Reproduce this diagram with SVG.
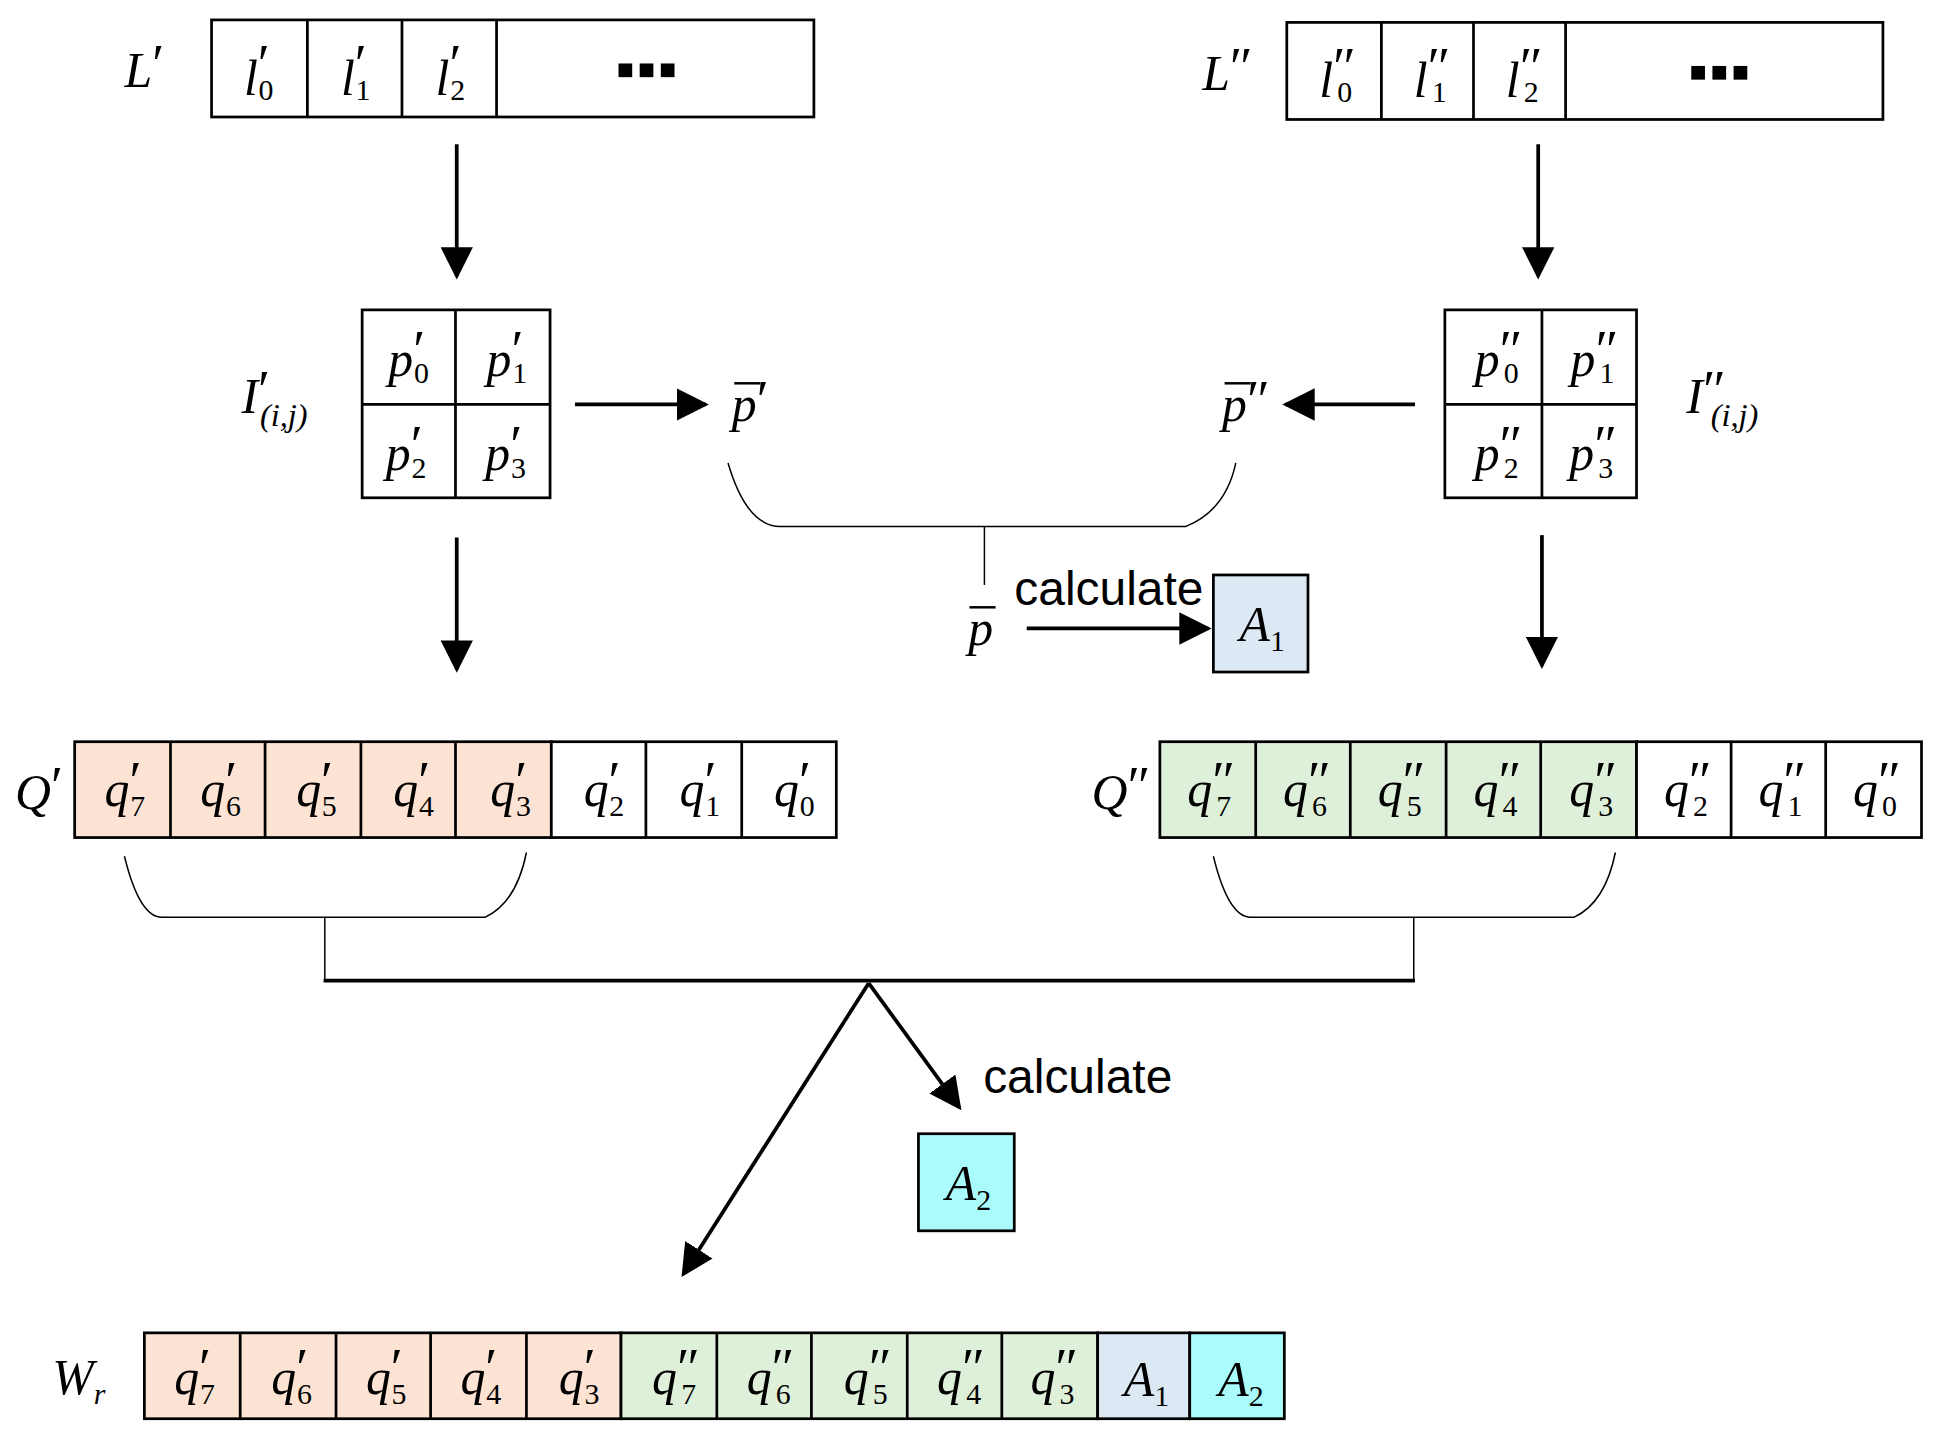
<svg xmlns="http://www.w3.org/2000/svg" width="1951" height="1443" viewBox="0 0 1951 1443">
<defs>
<style>
.b{fill:none;stroke:#000;stroke-width:2.2}
.t{stroke:#000;stroke-width:1.2;fill:none}
.w{fill:#fff;stroke:#000;stroke-width:2.2}
.o{fill:#fde3d3;stroke:#000;stroke-width:2.2}
.g{fill:#dff0da;stroke:#000;stroke-width:2.2}
.a1{fill:#dde8f5;stroke:#000;stroke-width:2.2}
.a2{fill:#aafcfc;stroke:#000;stroke-width:2.2}
.m{font-family:"Liberation Serif",serif;font-style:italic;font-size:40px}
.s{font-size:24px;font-style:normal}
.pr{font-size:44px;font-style:normal}
.c{font-family:"Liberation Sans",sans-serif;font-size:38px}
.ln{stroke:#000;stroke-width:3;fill:none}
</style>
<marker id="ar" viewBox="0 0 10 10" refX="9" refY="5" markerWidth="26" markerHeight="26" orient="auto" markerUnits="userSpaceOnUse"><path d="M0,0 L10,5 L0,10 z"/></marker>
</defs>
<rect width="1951" height="1443" fill="#fff"/>
<g transform="scale(1.2445,1.2445)">
<g id="connectors">
<line class="ln" x1="367" y1="116" x2="367" y2="222" marker-end="url(#ar)"/>
<line class="ln" x1="1236" y1="116" x2="1236" y2="222" marker-end="url(#ar)"/>
<line class="ln" x1="462" y1="325" x2="567" y2="325" marker-end="url(#ar)"/>
<line class="ln" x1="1137" y1="325" x2="1033" y2="325" marker-end="url(#ar)"/>
<line class="ln" x1="367" y1="432" x2="367" y2="538" marker-end="url(#ar)"/>
<line class="ln" x1="1239" y1="430" x2="1239" y2="535" marker-end="url(#ar)"/>
<line class="ln" x1="825" y1="505" x2="971" y2="505" marker-end="url(#ar)"/>
<path class="t" d="M585,372 Q600,423 627,423 L953,423 Q985,410 993,372"/>
<line class="t" x1="791" y1="423" x2="791" y2="470"/>
<path class="t" d="M100,688 Q112,737 130,737 L390,737 Q415,725 423,685"/>
<line class="t" x1="261" y1="737" x2="261" y2="788"/>
<path class="t" d="M975,688 Q987,737 1005,737 L1265,737 Q1290,725 1298,685"/>
<line class="t" x1="1136" y1="737" x2="1136" y2="788"/>
<line class="ln" x1="260" y1="788" x2="1137" y2="788"/>
<line class="ln" x1="698" y1="790" x2="771" y2="890" marker-end="url(#ar)"/>
<line class="ln" x1="698" y1="790" x2="549" y2="1024" marker-end="url(#ar)"/>
</g>
<g id="Lp">
<rect class="w" x="170" y="16" width="484" height="78"/>
<line class="b" x1="247" y1="16" x2="247" y2="94"/><line class="b" x1="323" y1="16" x2="323" y2="94"/><line class="b" x1="399" y1="16" x2="399" y2="94"/>
<text class="m" x="100" y="70">L<tspan class="pr" dy="-4">′</tspan></text>
<text class="m" x="196" y="76">l<tspan class="pr" dy="-10">′</tspan><tspan class="s" dx="-9" dy="14">0</tspan></text>
<text class="m" x="274" y="76">l<tspan class="pr" dy="-10">′</tspan><tspan class="s" dx="-9" dy="14">1</tspan></text>
<text class="m" x="350" y="76">l<tspan class="pr" dy="-10">′</tspan><tspan class="s" dx="-9" dy="14">2</tspan></text>
<rect x="497" y="51" width="11" height="11"/><rect x="514" y="51" width="11" height="11"/><rect x="531" y="51" width="11" height="11"/>
</g>
<g id="Lpp">
<rect class="w" x="1034" y="18" width="479" height="78"/>
<line class="b" x1="1110" y1="18" x2="1110" y2="96"/><line class="b" x1="1184" y1="18" x2="1184" y2="96"/><line class="b" x1="1258" y1="18" x2="1258" y2="96"/>
<text class="m" x="966" y="72">L<tspan class="pr" dy="-4">″</tspan></text>
<text class="m" x="1060" y="78">l<tspan class="pr" dy="-10">″</tspan><tspan class="s" dx="-15" dy="14">0</tspan></text>
<text class="m" x="1136" y="78">l<tspan class="pr" dy="-10">″</tspan><tspan class="s" dx="-15" dy="14">1</tspan></text>
<text class="m" x="1210" y="78">l<tspan class="pr" dy="-10">″</tspan><tspan class="s" dx="-15" dy="14">2</tspan></text>
<rect x="1359" y="53" width="11" height="11"/><rect x="1376" y="53" width="11" height="11"/><rect x="1393" y="53" width="11" height="11"/>
</g>
<g id="Ip">
<rect class="w" x="291" y="249" width="151" height="151"/>
<line class="b" x1="366" y1="249" x2="366" y2="400"/><line class="b" x1="291" y1="325" x2="442" y2="325"/>
<text class="m" x="312" y="302">p<tspan class="pr" dy="-6">′</tspan><tspan class="s" dx="-9" dy="12">0</tspan></text>
<text class="m" x="391" y="302">p<tspan class="pr" dy="-6">′</tspan><tspan class="s" dx="-9" dy="12">1</tspan></text>
<text class="m" x="310" y="378">p<tspan class="pr" dy="-6">′</tspan><tspan class="s" dx="-9" dy="12">2</tspan></text>
<text class="m" x="390" y="378">p<tspan class="pr" dy="-6">′</tspan><tspan class="s" dx="-9" dy="12">3</tspan></text>
<text class="m" x="194" y="332">I<tspan class="pr" dy="-4">′</tspan><tspan font-size="26" dx="-8" dy="14">(i,j)</tspan></text>
</g>
<g id="Ipp">
<rect class="w" x="1161" y="249" width="154" height="151"/>
<line class="b" x1="1239" y1="249" x2="1239" y2="400"/><line class="b" x1="1161" y1="325" x2="1315" y2="325"/>
<text class="m" x="1185" y="302">p<tspan class="pr" dy="-6">″</tspan><tspan class="s" dx="-15" dy="12">0</tspan></text>
<text class="m" x="1262" y="302">p<tspan class="pr" dy="-6">″</tspan><tspan class="s" dx="-15" dy="12">1</tspan></text>
<text class="m" x="1185" y="378">p<tspan class="pr" dy="-6">″</tspan><tspan class="s" dx="-15" dy="12">2</tspan></text>
<text class="m" x="1261" y="378">p<tspan class="pr" dy="-6">″</tspan><tspan class="s" dx="-15" dy="12">3</tspan></text>
<text class="m" x="1355" y="332">I<tspan class="pr" dy="-4">″</tspan><tspan font-size="26" dx="-12" dy="14">(i,j)</tspan></text>
</g>
<g id="pbar1"><text class="m" x="588" y="338">p<tspan class="pr" dy="-2">′</tspan></text><line x1="590" y1="308" x2="611" y2="308" stroke="#000" stroke-width="2"/></g>
<g id="pbar2"><text class="m" x="982" y="338">p<tspan class="pr" dy="-2">″</tspan></text><line x1="984" y1="308" x2="1005" y2="308" stroke="#000" stroke-width="2"/></g>
<g id="pbar"><text class="m" x="778" y="518">p</text><line x1="779" y1="488" x2="800" y2="488" stroke="#000" stroke-width="2"/></g>
<text class="c" x="815" y="486" textLength="152" lengthAdjust="spacingAndGlyphs">calculate</text>
<g id="A1"><rect class="a1" x="975" y="462" width="76" height="78"/><text class="m" x="996" y="515">A<tspan class="s" dy="8">1</tspan></text></g>
<g id="Qp">
<rect class="o" x="60" y="596" width="383" height="77"/>
<rect class="w" x="443" y="596" width="229" height="77"/>
<g class="b"><line x1="137" y1="596" x2="137" y2="673"/><line x1="213" y1="596" x2="213" y2="673"/><line x1="290" y1="596" x2="290" y2="673"/><line x1="366" y1="596" x2="366" y2="673"/><line x1="519" y1="596" x2="519" y2="673"/><line x1="596" y1="596" x2="596" y2="673"/></g>
<text class="m" x="12" y="650">Q<tspan class="pr" dy="-4">′</tspan></text>
<text class="m" x="84" y="648">q<tspan class="pr" dy="-6">′</tspan><tspan class="s" dx="-9" dy="14">7</tspan></text>
<text class="m" x="161" y="648">q<tspan class="pr" dy="-6">′</tspan><tspan class="s" dx="-9" dy="14">6</tspan></text>
<text class="m" x="238" y="648">q<tspan class="pr" dy="-6">′</tspan><tspan class="s" dx="-9" dy="14">5</tspan></text>
<text class="m" x="316" y="648">q<tspan class="pr" dy="-6">′</tspan><tspan class="s" dx="-9" dy="14">4</tspan></text>
<text class="m" x="394" y="648">q<tspan class="pr" dy="-6">′</tspan><tspan class="s" dx="-9" dy="14">3</tspan></text>
<text class="m" x="469" y="648">q<tspan class="pr" dy="-6">′</tspan><tspan class="s" dx="-9" dy="14">2</tspan></text>
<text class="m" x="546" y="648">q<tspan class="pr" dy="-6">′</tspan><tspan class="s" dx="-9" dy="14">1</tspan></text>
<text class="m" x="622" y="648">q<tspan class="pr" dy="-6">′</tspan><tspan class="s" dx="-9" dy="14">0</tspan></text>
</g>
<g id="Qpp">
<rect class="g" x="932" y="596" width="383" height="77"/>
<rect class="w" x="1315" y="596" width="229" height="77"/>
<g class="b"><line x1="1009" y1="596" x2="1009" y2="673"/><line x1="1085" y1="596" x2="1085" y2="673"/><line x1="1162" y1="596" x2="1162" y2="673"/><line x1="1238" y1="596" x2="1238" y2="673"/><line x1="1391" y1="596" x2="1391" y2="673"/><line x1="1467" y1="596" x2="1467" y2="673"/></g>
<text class="m" x="877" y="650">Q<tspan class="pr" dy="-4">″</tspan></text>
<text class="m" x="954" y="648">q<tspan class="pr" dy="-6">″</tspan><tspan class="s" dx="-15" dy="14">7</tspan></text>
<text class="m" x="1031" y="648">q<tspan class="pr" dy="-6">″</tspan><tspan class="s" dx="-15" dy="14">6</tspan></text>
<text class="m" x="1107" y="648">q<tspan class="pr" dy="-6">″</tspan><tspan class="s" dx="-15" dy="14">5</tspan></text>
<text class="m" x="1184" y="648">q<tspan class="pr" dy="-6">″</tspan><tspan class="s" dx="-15" dy="14">4</tspan></text>
<text class="m" x="1261" y="648">q<tspan class="pr" dy="-6">″</tspan><tspan class="s" dx="-15" dy="14">3</tspan></text>
<text class="m" x="1337" y="648">q<tspan class="pr" dy="-6">″</tspan><tspan class="s" dx="-15" dy="14">2</tspan></text>
<text class="m" x="1413" y="648">q<tspan class="pr" dy="-6">″</tspan><tspan class="s" dx="-15" dy="14">1</tspan></text>
<text class="m" x="1489" y="648">q<tspan class="pr" dy="-6">″</tspan><tspan class="s" dx="-15" dy="14">0</tspan></text>
</g>
<text class="c" x="790" y="878" textLength="152" lengthAdjust="spacingAndGlyphs">calculate</text>
<g id="A2"><rect class="a2" x="738" y="911" width="77" height="78"/><text class="m" x="760" y="964">A<tspan class="s" dy="8">2</tspan></text></g>
<g id="Wr">
<rect class="o" x="116" y="1071" width="383" height="69"/>
<rect class="g" x="499" y="1071" width="383" height="69"/>
<rect class="a1" x="882" y="1071" width="74" height="69"/>
<rect class="a2" x="956" y="1071" width="76" height="69"/>
<g class="b"><line x1="193" y1="1071" x2="193" y2="1140"/><line x1="270" y1="1071" x2="270" y2="1140"/><line x1="346" y1="1071" x2="346" y2="1140"/><line x1="423" y1="1071" x2="423" y2="1140"/><line x1="576" y1="1071" x2="576" y2="1140"/><line x1="652" y1="1071" x2="652" y2="1140"/><line x1="729" y1="1071" x2="729" y2="1140"/><line x1="805" y1="1071" x2="805" y2="1140"/></g>
<text class="m" x="42" y="1120">W<tspan font-size="24" dy="8">r</tspan></text>
<text class="m" x="140" y="1120">q<tspan class="pr" dy="-6">′</tspan><tspan class="s" dx="-9" dy="14">7</tspan></text>
<text class="m" x="218" y="1120">q<tspan class="pr" dy="-6">′</tspan><tspan class="s" dx="-9" dy="14">6</tspan></text>
<text class="m" x="294" y="1120">q<tspan class="pr" dy="-6">′</tspan><tspan class="s" dx="-9" dy="14">5</tspan></text>
<text class="m" x="370" y="1120">q<tspan class="pr" dy="-6">′</tspan><tspan class="s" dx="-9" dy="14">4</tspan></text>
<text class="m" x="449" y="1120">q<tspan class="pr" dy="-6">′</tspan><tspan class="s" dx="-9" dy="14">3</tspan></text>
<text class="m" x="524" y="1120">q<tspan class="pr" dy="-6">″</tspan><tspan class="s" dx="-15" dy="14">7</tspan></text>
<text class="m" x="600" y="1120">q<tspan class="pr" dy="-6">″</tspan><tspan class="s" dx="-15" dy="14">6</tspan></text>
<text class="m" x="678" y="1120">q<tspan class="pr" dy="-6">″</tspan><tspan class="s" dx="-15" dy="14">5</tspan></text>
<text class="m" x="753" y="1120">q<tspan class="pr" dy="-6">″</tspan><tspan class="s" dx="-15" dy="14">4</tspan></text>
<text class="m" x="828" y="1120">q<tspan class="pr" dy="-6">″</tspan><tspan class="s" dx="-15" dy="14">3</tspan></text>
<text class="m" x="903" y="1122">A<tspan class="s" dy="8">1</tspan></text>
<text class="m" x="979" y="1122">A<tspan class="s" dy="8">2</tspan></text>
</g>
</g>
</svg>
